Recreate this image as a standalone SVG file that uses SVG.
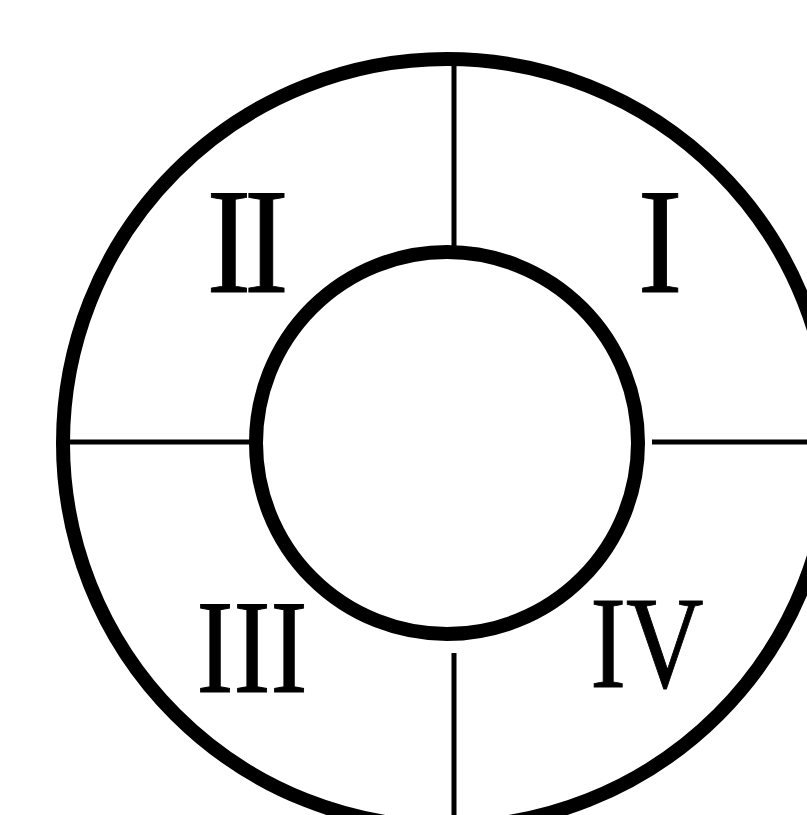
<svg xmlns="http://www.w3.org/2000/svg" width="807" height="815" viewBox="0 0 807 815">
<style>
.ring{fill:none;stroke:#000;stroke-width:14}
.div{stroke:#000;stroke-width:5;fill:none}
.lbl{font-family:"Liberation Serif","Times New Roman",serif;fill:#000;stroke:#000;stroke-width:1;text-anchor:middle}
</style>
<rect width="807" height="815" fill="#fff"/>
<g id="connectors">
<line class="div" x1="454" y1="60" x2="454" y2="250"/>
<line class="div" x1="454" y1="653" x2="454" y2="815"/>
<line class="div" x1="66" y1="442" x2="254" y2="442"/>
<line class="div" x1="652" y1="442" x2="807" y2="442"/>
</g>
<g id="outer"><circle class="ring" cx="447" cy="443" r="384"/></g>
<g id="inner"><circle class="ring" cx="447" cy="443" r="191"/></g>
<g id="q1"><text class="lbl" font-size="151" transform="translate(660,292) scale(0.89,1)">I</text></g>
<g id="q2"><text class="lbl" font-size="151" letter-spacing="-8" transform="translate(244,292) scale(0.89,1)">II</text></g>
<g id="q3"><text class="lbl" font-size="134" transform="translate(252,692) scale(0.83,1)">III</text></g>
<g id="q4"><text class="lbl" font-size="131" transform="translate(647,687) scale(0.82,1)">IV</text></g>
</svg>
